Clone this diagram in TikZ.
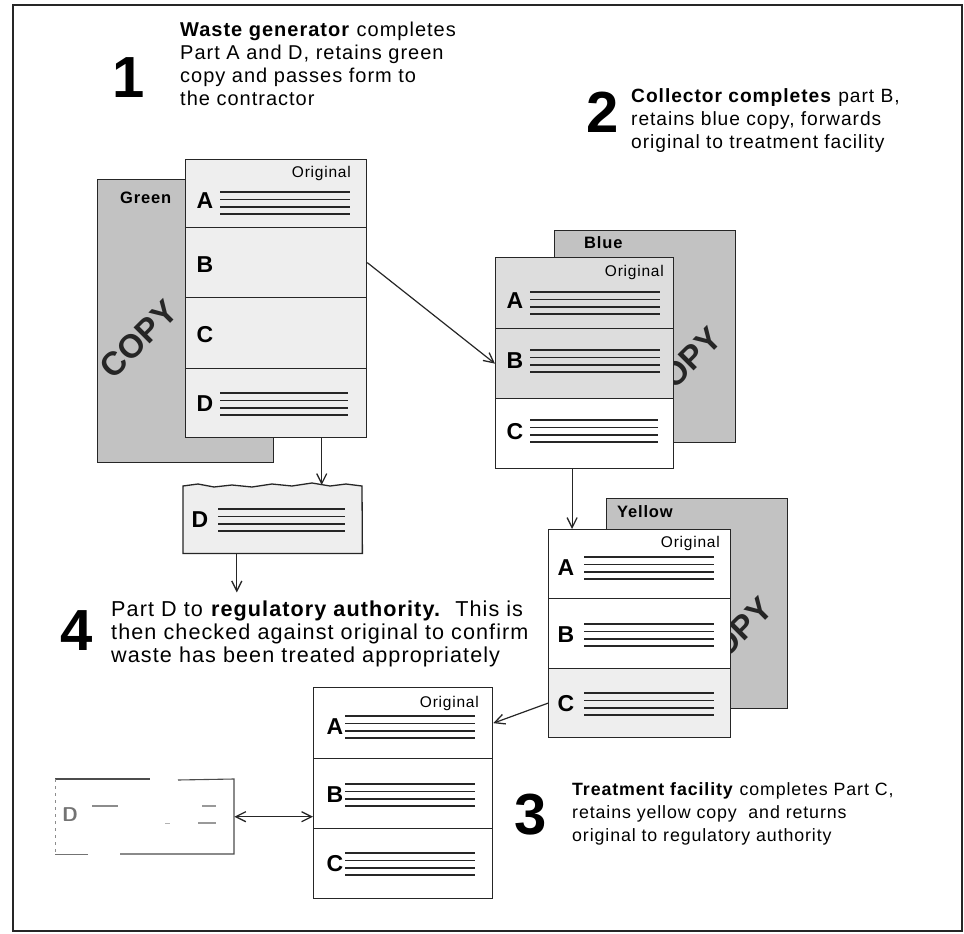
\documentclass[tikz,border=0pt]{standalone}
\usepackage{fontspec}
\setmainfont{Liberation Sans}
\newfontfamily\widesans[LetterSpace=5]{Liberation Sans}
\usetikzlibrary{arrows.meta,calc}

% four ruled lines of a form row, centred on a height
\newcommand{\formrows}[3]{%
  \foreach \dy in {-11,-3.7,3.7,11}{\draw[formline] (#1,#3+\dy) -- (#2,#3+\dy);}}

\tikzset{
  sheet/.style={draw=black!85, line width=1.3pt, inner sep=0, anchor=north west},
  copysheet/.style={sheet, fill=gray!48},
  plainsec/.style={sheet, fill=white},
  shadesec/.style={sheet, fill=gray!13},
  darksec/.style={sheet, fill=gray!27},
  letter/.style={font=\fontsize{23}{23}\selectfont\bfseries, inner sep=0},
  origlbl/.style={font=\widesans\fontsize{15.5}{15.5}\selectfont, inner sep=0, anchor=east},
  copylbl/.style={font=\widesans\fontsize{16.5}{16.5}\selectfont\bfseries, inner sep=0, anchor=west},
  copyword/.style={font=\fontsize{33}{33}\selectfont\bfseries, rotate=45, inner sep=0, text=black!85},
  formline/.style={line width=1.6pt, black!85},
  barb/.tip={Straight Barb[length=10pt,width=10pt,line width=1.3pt]},
  flow/.style={line width=1.2pt, black!85, -barb},
  twoway/.style={line width=1.2pt, black!85, barb-barb},
  note/.style={font=\widesans\fontsize{#1}{23}\selectfont, align=left, inner sep=0, anchor=north west},
  digit/.style={font=\fontsize{58}{58}\selectfont\bfseries, inner sep=0},
}

\begin{document}
\begin{tikzpicture}[x=1pt,y=-1pt]
\useasboundingbox (0,0) rectangle (964,934);
\draw[line width=1.3pt, black!85] (13,5) rectangle (962,931);

% ---------- step 1: waste generator ----------
\node[copysheet, minimum width=176, minimum height=283] (green) at (97,179) {};
\node[copylbl] (greenlbl) at (120,198) {Green};
\node[copyword] (greencopy) at (139,339) {COPY};

\node[shadesec, minimum width=181, minimum height=68] (g1a) at (185,159) {};
\node[shadesec, minimum width=181, minimum height=70] (g1b) at (185,227) {};
\node[shadesec, minimum width=181, minimum height=71] (g1c) at (185,297) {};
\node[shadesec, minimum width=181, minimum height=69] (g1d) at (185,368) {};
\node[origlbl] (g1o) at (351,173) {Original};
\node[letter] (g1la) at (205,201) {A}; \formrows{220}{350}{203}
\node[letter] (g1lb) at (205,265) {B};
\node[letter] (g1lc) at (205,335) {C};
\node[letter] (g1ld) at (205,404) {D}; \formrows{220}{348}{404}

% part D slip, torn along its top edge
\node[inner sep=0, minimum width=179, minimum height=68, anchor=north west] (slip) at (183,485) {};
\draw[line width=1.3pt, black!85, fill=gray!13]
  (slip.south west) -- (183,486) -- (198,484) -- (214,487) -- (232,485) -- (252,487)
  -- (272,484) -- (292,486) -- (312,483) -- (330,486) -- (346,484) -- (362,486)
  -- (slip.south east) -- cycle;
\node[letter] (sld) at (200,520) {D}; \formrows{218}{345}{520}

% ---------- step 2: collector ----------
\node[copysheet, minimum width=181, minimum height=212] (blue) at (554,230) {};
\node[copylbl] (bluelbl) at (584,243) {Blue};
\node[copyword] (bluecopy) at (683,366) {COPY};

\node[darksec, minimum width=178, minimum height=71] (b1a) at (495,257) {};
\node[darksec, minimum width=178, minimum height=70] (b1b) at (495,328) {};
\node[plainsec, minimum width=178, minimum height=70] (b1c) at (495,398) {};
\node[origlbl] (b1o) at (664,272) {Original};
\node[letter] (b1la) at (515,301) {A}; \formrows{530}{660}{303}
\node[letter] (b1lb) at (515,361) {B}; \formrows{530}{660}{361}
\node[letter] (b1lc) at (515,432) {C}; \formrows{530}{658}{431}

% ---------- step 3: treatment facility ----------
\node[copysheet, minimum width=181, minimum height=210] (yellow) at (606,498) {};
\node[copylbl] (yellowlbl) at (617,512) {Yellow};
\node[copyword] (yellowcopy) at (734,636) {COPY};

\node[plainsec, minimum width=182, minimum height=69] (y1a) at (548,529) {};
\node[plainsec, minimum width=182, minimum height=70] (y1b) at (548,598) {};
\node[shadesec, minimum width=182, minimum height=69] (y1c) at (548,668) {};
\node[origlbl] (y1o) at (720,543) {Original};
\node[letter] (y1la) at (566,568) {A}; \formrows{584}{714}{568}
\node[letter] (y1lb) at (566,635) {B}; \formrows{584}{714}{635}
\node[letter] (y1lc) at (566,704) {C}; \formrows{584}{714}{704}

% ---------- original returned to the authority ----------
\node[plainsec, minimum width=179, minimum height=71] (g4a) at (313,687) {};
\node[plainsec, minimum width=179, minimum height=70] (g4b) at (313,758) {};
\node[plainsec, minimum width=179, minimum height=70] (g4c) at (313,828) {};
\node[origlbl] (g4o) at (479,703) {Original};
\node[letter] (g4la) at (335,727) {A}; \formrows{345}{475}{727}
\node[letter] (g4lb) at (335,795) {B}; \formrows{345}{475}{795}
\node[letter] (g4lc) at (335,864) {C}; \formrows{345}{475}{864}

% faded part D held by the authority
\node[inner sep=0, minimum width=179, minimum height=75, anchor=north west] (fade) at (55,779) {};
\draw[line width=1.1pt, black!70] (55,779) -- (150,779);
\draw[line width=1.1pt, black!70] (178,780) -- (234,779) -- (234,854) -- (120,854);
\draw[line width=0.8pt, black!55] (88,854) -- (55,854);
\draw[line width=0.8pt, black!45, dash pattern=on 3pt off 4pt] (55,779) -- (55,854);
\node[font=\fontsize{20}{20}\selectfont\bfseries, text=black!55, inner sep=0] (fadeD) at (70,815) {\textsf{D}};
\draw[line width=1.2pt, black!45] (92,806) -- (118,806);
\draw[line width=1.2pt, black!40] (202,806) -- (216,806);
\draw[line width=1.2pt, black!40] (198,823) -- (216,823);
\draw[line width=0.8pt, black!30] (165,823) -- (170,823);

% ---------- connectors ----------
\coordinate (g1out) at ($(g1d.south west)!0.75!(g1d.south east)$);
\coordinate (slipout) at ($(slip.south west)!0.3!(slip.south east)$);
\coordinate (b1out) at ($(b1c.south west)!0.43!(b1c.south east)$);
\draw[flow] (g1b.east) -- (b1b.west);
\draw[flow] (g1out) -- (g1out |- slip.north);
\draw[flow] (slipout) -- ++(0,39);
\draw[flow] (b1out) -- (b1out |- y1a.north);
\draw[flow] (y1c.west) -- (g4a.east);
\draw[twoway] (fade.east) -- (fade.east -| g4b.west);

% ---------- step texts ----------
\node[digit] (n1) at (129,78) {1};
\node[note=20] (t1) at (180,22) {\textbf{Waste generator} completes\\Part A and D, retains green\\copy and passes form to\\the contractor};
\node[digit] (n2) at (603,112) {2};
\node[note=19.2] (t2) at (631,88) {\textbf{Collector completes} part B,\\retains blue copy, forwards\\original to treatment facility};
\node[digit] (n3) at (531,815) {3};
\node[note=17.8] (t3) at (572,782) {\textbf{Treatment facility} completes Part C,\\retains yellow copy\ \ and returns\\original to regulatory authority};
\node[digit] (n4) at (77,631) {4};
\node[note=21.6] (t4) at (111,601) {Part D to \textbf{regulatory authority.}\ \ This is\\then checked against original to confirm\\waste has been treated appropriately};
\end{tikzpicture}
\end{document}
